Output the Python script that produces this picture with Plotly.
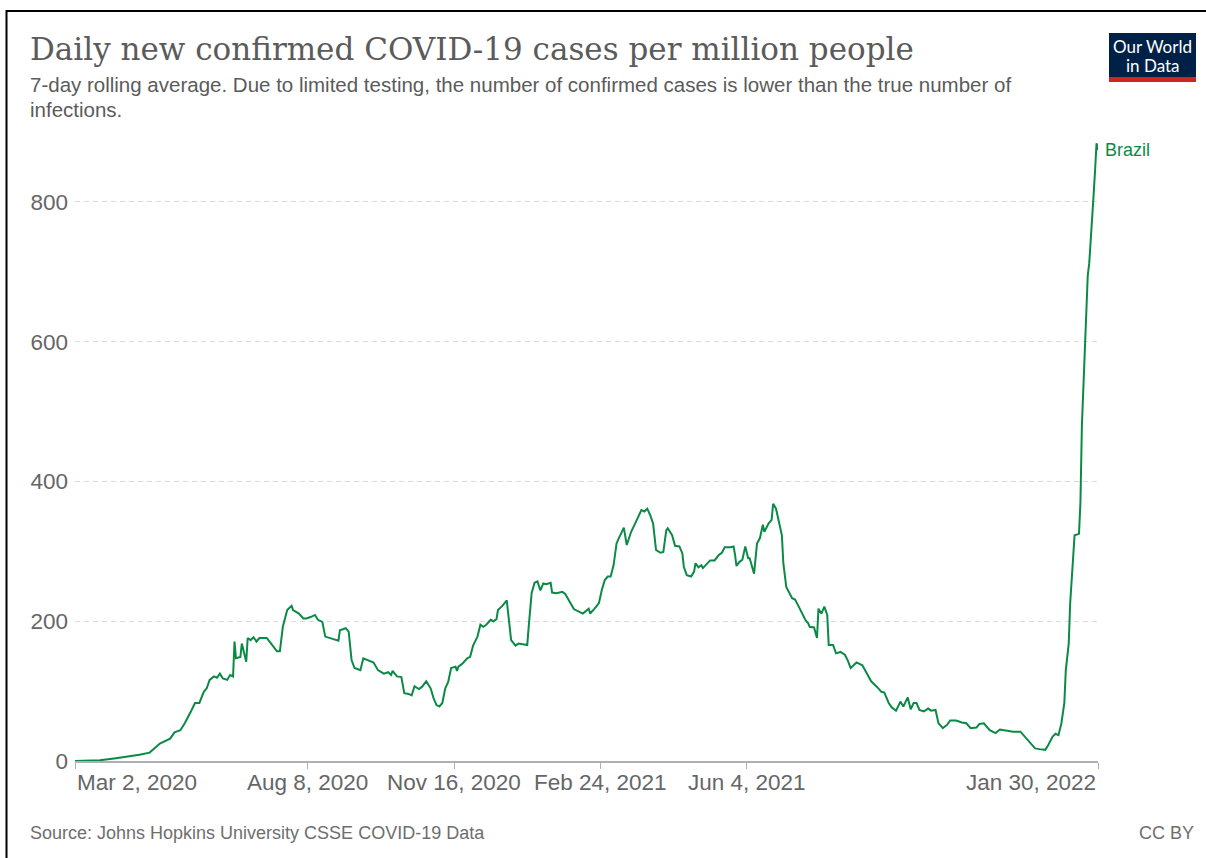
import pandas as pd
import plotly.graph_objects as go

# Brazil: daily new confirmed COVID-19 cases per million (7-day rolling average)
start_date = "2020-03-02"
days_since_start = [
    0, 17, 28, 38, 44, 51, 58, 65, 68, 72, 75, 79, 82, 85, 88, 90, 92, 95, 97, 99,
    101, 104, 106, 108, 109, 110, 113, 114, 115, 117, 118, 120, 122, 124, 126, 131,
    134, 138, 140, 142, 145, 148, 149, 153, 156, 158, 161, 164, 166, 169, 171, 174,
    178, 180, 181, 185, 187, 189, 191, 195, 197, 200, 204, 207, 211, 214, 216, 217,
    220, 223, 225, 228, 230, 232, 235, 237, 240, 243, 245, 247, 249, 251, 253, 255,
    257, 260, 261, 262, 265, 268, 270, 272, 275, 277, 279, 281, 284, 286, 288, 289,
    292, 295, 296, 298, 301, 303, 306, 309, 310, 312, 314, 316, 318, 320, 322, 325,
    326, 329, 333, 335, 338, 341, 344, 347, 351, 352, 355, 358, 360, 362, 364, 366,
    368, 370, 371, 373, 375, 377, 380, 383, 385, 387, 389, 391, 393, 395, 397, 400,
    402, 404, 405, 408, 410, 413, 415, 416, 418, 421, 423, 424, 426, 428, 429, 432,
    434, 437, 440, 442, 444, 448, 450, 451, 452, 454, 456, 458, 460, 461, 463, 464,
    466, 468, 470, 471, 474, 476, 477, 479, 481, 483, 484, 486, 490, 492, 494, 497,
    499, 501, 502, 505, 507, 508, 510, 512, 514, 515, 518, 520, 523, 526, 528, 530,
    534, 538, 541, 544, 548, 551, 553, 556, 558, 561, 564, 566, 569, 571, 573, 575,
    577, 580, 583, 585, 588, 590, 593, 596, 598, 602, 606, 609, 612, 616, 618, 621,
    625, 629, 632, 637, 641, 646, 649, 653, 656, 659, 663, 665, 668, 670, 672, 674,
    676, 677, 679, 680, 682, 683, 686, 687, 688, 689, 690, 691, 692, 693, 694, 695,
    696, 697, 698, 699,
]
cases_per_million = [
    0, 1, 4, 7, 9, 12, 25, 32, 41, 44, 54, 70, 83, 83, 99, 104, 116, 121, 119, 125,
    118, 116, 123, 121, 171, 147, 149, 168, 159, 142, 176, 173, 177, 171, 176, 176,
    168, 157, 157, 192, 216, 222, 216, 211, 204, 204, 206, 209, 202, 199, 178, 176,
    173, 172, 187, 190, 185, 144, 133, 130, 147, 144, 141, 130, 125, 127, 123, 129,
    121, 120, 97, 96, 94, 107, 103, 106, 114, 104, 90, 80, 78, 83, 104, 113,
    133, 135, 129, 135, 140, 147, 149, 165, 178, 195, 192, 195, 202, 200, 203, 216,
    222, 230, 211, 173, 165, 168, 167, 166, 192, 240, 255, 257, 244, 254, 253, 255,
    241, 240, 242, 239, 228, 217, 214, 211, 218, 211, 218, 226, 245, 259, 264, 264,
    280, 311, 316, 326, 334, 309, 328, 341, 350, 359, 357, 361, 352, 340, 302, 298,
    299, 330, 333, 323, 308, 307, 297, 278, 266, 264, 271, 283, 277, 280, 276, 282,
    287, 287, 295, 298, 306, 306, 307, 295, 279, 285, 288, 307, 290, 290, 273, 268,
    311, 319, 338, 328, 340, 345, 368, 361, 342, 323, 283, 249, 233, 231, 223, 209,
    202, 197, 192, 191, 176, 218, 211, 221, 209, 166, 166, 154, 156, 152, 144, 133,
    141, 137, 125, 114, 106, 99, 98, 83, 77, 72, 85, 78, 91, 74, 83, 83,
    73, 71, 75, 72, 73, 54, 47, 52, 58, 58, 55, 54, 47, 48, 53, 54,
    44, 40, 45, 43, 42, 42, 35, 25, 18, 17, 16, 23, 35, 39, 37, 54,
    83, 130, 168, 226, 302, 323, 325, 370, 480, 530, 600, 650, 695, 712, 740, 775,
    810, 845, 884, 874,
]

tick_dates = ["2020-03-02", "2020-08-08", "2020-11-16", "2021-02-24", "2021-06-04", "2022-01-30"]
tick_labels = ["Mar 2, 2020", "Aug 8, 2020", "Nov 16, 2020", "Feb 24, 2021", "Jun 4, 2021", "Jan 30, 2022"]
tick_anchor = ["left", "center", "center", "center", "center", "right"]
y_ticks = [0, 200, 400, 600, 800]

dates = pd.Timestamp(start_date) + pd.to_timedelta(days_since_start, unit="D")

LINE_GREEN = "#0b8a46"
GREY_TEXT = "#5b5b5b"

# page geometry (pixels) for the plotting area
W, H = 1206, 858
L, R, T, B = 75, 108, 132, 97
PW, PH = W - L - R, H - T - B


def px(x):
    return (x - L) / PW


def py(y):
    return (H - B - y) / PH


fig = go.Figure()
fig.add_trace(go.Scatter(
    x=dates, y=cases_per_million, mode="lines",
    line=dict(color=LINE_GREEN, width=2), hoverinfo="skip", showlegend=False,
))

annotations = [
    dict(text="Daily new confirmed COVID-19 cases per million people",
         x=px(28), y=py(49), xanchor="left", yanchor="middle",
         font=dict(family="DejaVu Serif", size=31, color=GREY_TEXT)),
    dict(text="7-day rolling average. Due to limited testing, the number of confirmed cases is lower than the true number of",
         x=px(28), y=py(85), xanchor="left", yanchor="middle",
         font=dict(family="Liberation Sans", size=20.5, color=GREY_TEXT)),
    dict(text="infections.",
         x=px(28), y=py(109), xanchor="left", yanchor="middle",
         font=dict(family="Liberation Sans", size=20.5, color=GREY_TEXT)),
    dict(text="Source: Johns Hopkins University CSSE COVID-19 Data",
         x=px(28), y=py(833), xanchor="left", yanchor="middle",
         font=dict(family="Liberation Sans", size=18, color="#6e6e6e")),
    dict(text="CC BY",
         x=px(1196), y=py(833), xanchor="right", yanchor="middle",
         font=dict(family="Liberation Sans", size=18, color="#6e6e6e")),
    dict(text="Our World", x=px(1152.5), y=py(46.5), xanchor="center", yanchor="middle",
         font=dict(family="Lato", size=17, color="white")),
    dict(text="in Data", x=px(1152.5), y=py(65), xanchor="center", yanchor="middle",
         font=dict(family="Lato", size=17, color="white")),
    dict(text="Brazil", x=dates[-1], y=cases_per_million[-1], xref="x", yref="y",
         xanchor="left", yanchor="middle", xshift=5,
         font=dict(family="Liberation Sans", size=18, color=LINE_GREEN)),
]
for d, lab, anc in zip(tick_dates, tick_labels, tick_anchor):
    annotations.append(dict(text=lab, x=d, xref="x", y=py(782), yref="paper",
                            xanchor=anc, yanchor="middle",
                            font=dict(family="Liberation Sans", size=22.5, color="#666666")))
for a in annotations:
    a.setdefault("xref", "paper")
    a.setdefault("yref", "paper")
    a["showarrow"] = False

shapes = [
    # logo block
    dict(type="rect", xref="paper", yref="paper", x0=px(1109), x1=px(1196), y0=py(77), y1=py(33),
         fillcolor="#002147", line=dict(width=0)),
    dict(type="rect", xref="paper", yref="paper", x0=px(1109), x1=px(1196), y0=py(82), y1=py(77),
         fillcolor="#ce261e", line=dict(width=0)),
    # outer frame
    dict(type="rect", xref="paper", yref="paper", x0=px(6.5), x1=px(1230), y0=py(880), y1=py(11),
         line=dict(color="black", width=2), fillcolor="rgba(0,0,0,0)"),
]

fig.update_layout(
    width=W, height=H,
    margin=dict(l=L, r=R, t=T, b=B),
    paper_bgcolor="white", plot_bgcolor="white",
    annotations=annotations, shapes=shapes,
    xaxis=dict(
        range=[dates[0], dates[-1]], tickvals=tick_dates, showticklabels=False,
        ticks="outside", ticklen=6, tickcolor="#b0b0b0", tickwidth=1,
        showgrid=False, showline=True, linecolor="#b0b0b0", linewidth=1.5,
        zeroline=False,
    ),
    yaxis=dict(
        range=[0, 900], tickvals=y_ticks, ticks="",
        tickfont=dict(family="Liberation Sans", size=22.5, color="#666666"),
        showgrid=True, gridcolor="#dadada", griddash="5px,4px", gridwidth=1,
        zeroline=False, showline=False, ticklabelstandoff=6,
    ),
)

fig.write_html("out.html")
